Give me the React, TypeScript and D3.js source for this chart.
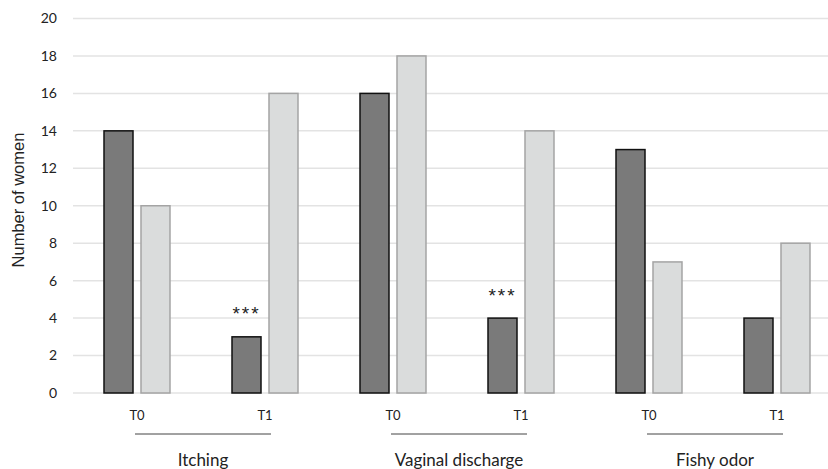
import React from "react";
import * as d3 from "d3";

// symptom groups and the two time points inside each
const groups = ["Itching", "Vaginal discharge", "Fishy odor"];
const times = ["T0", "T1"];
const seriesNames = ["dark", "light"];

// values per group, [T0, T1]
const darkValues = [
  [14, 3],
  [16, 4],
  [13, 4],
];
const lightValues = [
  [10, 16],
  [18, 14],
  [7, 8],
];
// significance markers on the dark bar, per group / time
const marks = [
  ["", "***"],
  ["", "***"],
  ["", ""],
];
const yTicks = [0, 2, 4, 6, 8, 10, 12, 14, 16, 18, 20];

const W = 828;
const H = 469;
const font = "Lato, 'Liberation Sans', sans-serif";

export default function App() {
  const cats = groups.flatMap((g) => times.map((t) => `${g}|${t}`));

  const x = d3.scaleBand().domain(cats).range([73, 841]).paddingInner(0).paddingOuter(0);
  const inner = d3
    .scaleBand()
    .domain(seriesNames)
    .range([0, x.bandwidth()])
    .paddingInner(8 / 37)
    .paddingOuter(0.838);
  const y = d3.scaleLinear().domain([0, 20]).range([393, 18.5]);

  const colors: Record<string, { fill: string; stroke: string }> = {
    dark: { fill: "#7a7a7a", stroke: "#111" },
    light: { fill: "#dadcdc", stroke: "#a4a4a4" },
  };

  return (
    <svg
      width={W}
      height={H}
      style={{ position: "absolute", left: 0, top: 0, background: "#fff" }}
    >
      {/* gridlines */}
      {yTicks.map((t) => (
        <line key={t} x1={73} x2={W} y1={y(t)} y2={y(t)} stroke="#e3e3e3" strokeWidth={1.5} />
      ))}
      {/* y tick labels */}
      {yTicks.map((t) => (
        <text
          key={"l" + t}
          x={57}
          y={y(t)}
          dy="0.35em"
          textAnchor="end"
          fontFamily={font}
          fontSize={14}
          fill="#222"
        >
          {t}
        </text>
      ))}
      <text
        transform="translate(23.5,200) rotate(-90)"
        textAnchor="middle"
        fontFamily="'Liberation Sans', Arial, sans-serif"
        fontSize={16.5}
        fill="#222"
      >
        Number of women
      </text>

      {/* bars */}
      {groups.map((g, gi) =>
        times.map((t, ti) => {
          const x0 = x(`${g}|${t}`) as number;
          const vals = { dark: darkValues[gi][ti], light: lightValues[gi][ti] } as Record<string, number>;
          return (
            <g key={g + t}>
              {seriesNames.map((s) => (
                <rect
                  key={s}
                  x={x0 + (inner(s) as number)}
                  y={y(vals[s])}
                  width={inner.bandwidth()}
                  height={y(0) - y(vals[s])}
                  fill={colors[s].fill}
                  stroke={colors[s].stroke}
                  strokeWidth={1.5}
                />
              ))}
              {marks[gi][ti] && (
                <text
                  x={x0 + (inner("dark") as number) + inner.bandwidth() / 2}
                  y={y(vals.dark) - 28}
                  dy="0.6em"
                  textAnchor="middle"
                  fontFamily="'Liberation Sans', Arial, sans-serif"
                  fontSize={19}
                  letterSpacing={2}
                  fill="#222"
                >
                  {marks[gi][ti]}
                </text>
              )}
              <text
                x={x0 + x.bandwidth() / 2}
                y={420}
                textAnchor="middle"
                fontFamily={font}
                fontSize={13}
                fill="#222"
              >
                {t}
              </text>
            </g>
          );
        })
      )}

      {/* group lines and labels */}
      {groups.map((g) => {
        const a = (x(`${g}|T0`) as number) + x.bandwidth() / 2 - 2;
        const b = (x(`${g}|T1`) as number) + x.bandwidth() / 2 + 6;
        return (
          <g key={"grp" + g}>
            <line x1={a} x2={b} y1={434} y2={434} stroke="#444" strokeWidth={1} />
            <text
              x={(a + b) / 2}
              y={466}
              textAnchor="middle"
              fontFamily={font}
              fontSize={17}
              fill="#222"
            >
              {g}
            </text>
          </g>
        );
      })}
    </svg>
  );
}
